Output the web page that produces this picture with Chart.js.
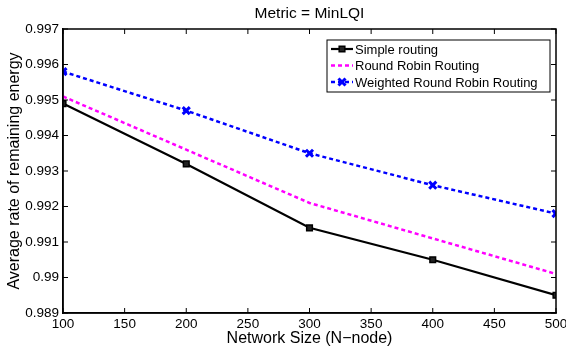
<!DOCTYPE html>
<html>
<head>
<meta charset="utf-8">
<script src="https://cdn.jsdelivr.net/npm/chart.js@4"></script>
<style>
  html, body { margin: 0; padding: 0; background: #fff; }
  #wrap { width: 566px; height: 347px; }
</style>
</head>
<body>
<div id="wrap"><canvas id="chart" width="566" height="347"></canvas></div>
<script>
// network sizes (x) and series values
const networkSizes = [100, 200, 300, 400, 500];
const simpleRouting = [0.9949, 0.9932, 0.9914, 0.9905, 0.9895];
const roundRobin = [0.9951, 0.9936, 0.9921, 0.9911, 0.9901];
const weightedRoundRobin = [0.9958, 0.9947, 0.9935, 0.9926, 0.9918];
const seriesNames = ["Simple routing", "Round Robin Routing", "Weighted Round Robin Routing"];
const chartTitle = "Metric = MinLQI";

const FONT = "'Liberation Sans', Arial, sans-serif";

const toPoints = (vals) => vals.map((v, i) => ({ x: networkSizes[i], y: v }));

// matlab-like box with inward ticks, title centred over the plot
const boxPlugin = {
  id: "box",
  afterDraw(chart) {
    const { ctx, chartArea: a, scales } = chart;
    ctx.save();
    ctx.strokeStyle = "#000";
    ctx.lineWidth = 1.5;
    ctx.strokeRect(a.left, a.top, a.right - a.left, a.bottom - a.top);
    ctx.lineWidth = 1;
    const t = 5;
    scales.x.ticks.forEach((tk) => {
      const px = scales.x.getPixelForValue(tk.value);
      ctx.beginPath();
      ctx.moveTo(px, a.bottom); ctx.lineTo(px, a.bottom - t);
      ctx.moveTo(px, a.top); ctx.lineTo(px, a.top + t);
      ctx.stroke();
    });
    scales.y.ticks.forEach((tk) => {
      const py = scales.y.getPixelForValue(tk.value);
      ctx.beginPath();
      ctx.moveTo(a.left, py); ctx.lineTo(a.left + t, py);
      ctx.moveTo(a.right, py); ctx.lineTo(a.right - t, py);
      ctx.stroke();
    });
    ctx.fillStyle = "#000";
    ctx.font = "15.5px " + FONT;
    ctx.textAlign = "center";
    ctx.textBaseline = "middle";
    ctx.fillText(chartTitle, (a.left + a.right) / 2, a.top - 15);
    ctx.restore();
  },
};

// legend drawn inside the plot, top right
const legendPlugin = {
  id: "innerLegend",
  afterDraw(chart) {
    const { ctx, chartArea: a } = chart;
    const w = 223, h = 52;
    const x0 = a.right - 229, y0 = a.top + 11;
    ctx.save();
    ctx.fillStyle = "#fff";
    ctx.fillRect(x0, y0, w, h);
    ctx.strokeStyle = "#000";
    ctx.lineWidth = 1;
    ctx.strokeRect(x0, y0, w, h);
    ctx.font = "13px " + FONT;
    ctx.textBaseline = "middle";
    chart.data.datasets.forEach((ds, i) => {
      const yy = y0 + 9 + i * 16.5;
      ctx.strokeStyle = ds.borderColor;
      ctx.lineWidth = ds.borderWidth;
      ctx.setLineDash(ds.borderDash || []);
      ctx.beginPath();
      ctx.moveTo(x0 + 4, yy); ctx.lineTo(x0 + 26, yy);
      ctx.stroke();
      ctx.setLineDash([]);
      if (ds.pointRadius > 0) {
        ctx.fillStyle = ds.pointBackgroundColor;
        ctx.strokeStyle = ds.pointBorderColor;
        ctx.lineWidth = ds.pointBorderWidth;
        Chart.helpers.drawPoint(ctx, { pointStyle: ds.pointStyle, radius: ds.pointRadius, borderWidth: ds.pointBorderWidth }, x0 + 15, yy);
      }
      ctx.fillStyle = "#000";
      ctx.fillText(ds.label, x0 + 28, yy + 1);
    });
    ctx.restore();
  },
};

new Chart(document.getElementById("chart"), {
  type: "line",
  data: {
    datasets: [
      {
        label: seriesNames[0],
        data: toPoints(simpleRouting),
        borderColor: "#000",
        borderWidth: 2.2,
        pointStyle: "rect",
        pointRadius: 4,
        pointBackgroundColor: "#222",
        pointBorderColor: "#000",
        pointBorderWidth: 1.5,
      },
      {
        label: seriesNames[1],
        data: toPoints(roundRobin),
        borderColor: "#ff00ff",
        borderWidth: 2.5,
        borderDash: [4, 3],
        pointRadius: 0,
      },
      {
        label: seriesNames[2],
        data: toPoints(weightedRoundRobin),
        borderColor: "#0000ff",
        borderWidth: 2.5,
        borderDash: [4, 3],
        pointStyle: "crossRot",
        pointRadius: 5,
        pointBackgroundColor: "#0000ff",
        pointBorderColor: "#0000ff",
        pointBorderWidth: 3,
      },
    ],
  },
  options: {
    responsive: false,
    animation: false,
    layout: { padding: { top: 29, right: 0, left: 0, bottom: 0 } },
    plugins: {
      legend: { display: false },
      tooltip: { enabled: false },
      title: { display: false },
    },
    scales: {
      x: {
        type: "linear",
        min: 100,
        max: 500,
        ticks: { stepSize: 50, color: "#000", font: { family: FONT, size: 13.5 }, padding: 3, maxRotation: 0 },
        grid: { display: false, drawTicks: false },
        border: { color: "#000", width: 1.5 },
        title: {
          display: true,
          text: "Network Size (N\u2212node)",
          color: "#000",
          font: { family: FONT, size: 16 },
          padding: { top: 0, bottom: -1 },
        },
        afterFit: (s) => { s.height = 34; s.paddingRight = 10; },
      },
      y: {
        min: 0.989,
        max: 0.997,
        ticks: {
          stepSize: 0.001,
          color: "#000",
          font: { family: FONT, size: 13.5 },
          padding: 4,
          callback: (v) => Number(v.toFixed(3)).toString(),
        },
        grid: { display: false, drawTicks: false },
        border: { color: "#000", width: 1.5 },
        title: {
          display: true,
          text: "Average rate of remaining energy",
          color: "#000",
          font: { family: FONT, size: 16 },
          padding: { top: 5, bottom: 0 },
        },
        afterFit: (s) => { s.width = 63; },
      },
    },
  },
  plugins: [boxPlugin, legendPlugin],
});
</script>
</body>
</html>
